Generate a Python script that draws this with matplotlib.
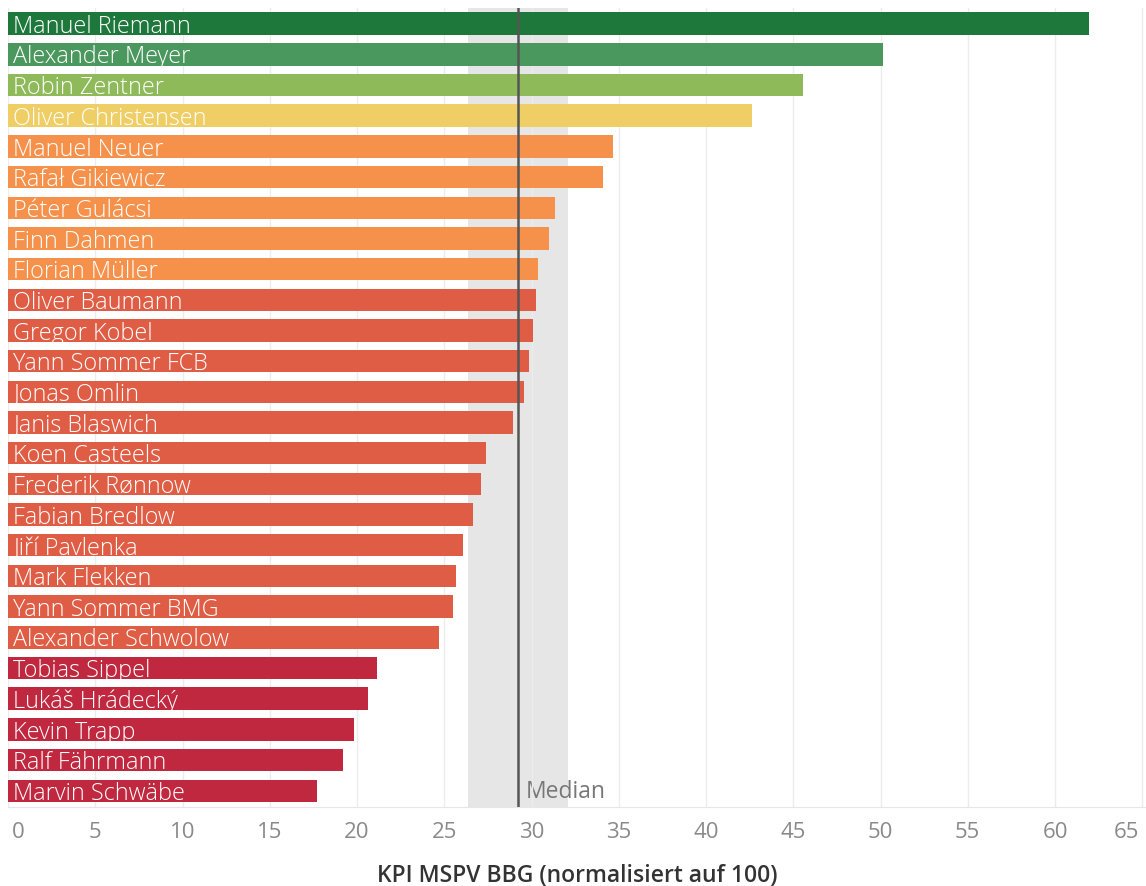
import numpy as np
import matplotlib.pyplot as plt
from matplotlib.transforms import ScaledTranslation

players = ["Manuel Riemann", "Alexander Meyer", "Robin Zentner", "Oliver Christensen",
           "Manuel Neuer", "Rafał Gikiewicz", "Péter Gulácsi", "Finn Dahmen",
           "Florian Müller", "Oliver Baumann", "Gregor Kobel", "Yann Sommer FCB",
           "Jonas Omlin", "Janis Blaswich", "Koen Casteels", "Frederik Rønnow",
           "Fabian Bredlow", "Jiří Pavlenka", "Mark Flekken", "Yann Sommer BMG",
           "Alexander Schwolow", "Tobias Sippel", "Lukáš Hrádecký", "Kevin Trapp",
           "Ralf Fährmann", "Marvin Schwäbe"]
kpi = [61.95, 50.15, 45.55, 42.65, 34.65, 34.1, 31.35, 31.0, 30.4, 30.25, 30.1,
       29.85, 29.55, 28.95, 27.4, 27.1, 26.65, 26.05, 25.65, 25.5, 24.7, 21.15,
       20.65, 19.85, 19.2, 17.7]
tiers = ["g1", "g2", "g3", "y", "o", "o", "o", "o", "o", "r", "r", "r", "r", "r",
         "r", "r", "r", "r", "r", "r", "r", "c", "c", "c", "c", "c"]
band = (26.35, 32.1)
ticks = list(range(0, 70, 5))

tier_colors = {"g1": "#1e783c", "g2": "#4b985f", "g3": "#8fba5a", "y": "#f0ce66",
               "o": "#f5914b", "r": "#e05d45", "c": "#bf283f"}

plt.rcParams["font.family"] = ["Open Sans", "DejaVu Sans"]

fig = plt.figure(figsize=(11.46, 8.87), dpi=100)
ax = fig.add_axes([8 / 1146, 79 / 887, 1138 / 1146, 799 / 887])

y = np.arange(len(players))
h = 0.73
ax.barh(y, kpi, height=h, color=[tier_colors[t] for t in tiers], zorder=2)

# player names sit inside the bars, baseline near the bar's lower edge
for yi, name in zip(y, players):
    ax.text(0.3, yi + h / 2 - 0.1, name, color="white", fontsize=16.8,
            fontweight="light", va="baseline", ha="left", zorder=3)

med = np.median(kpi)
ax.axvspan(band[0], band[1], color="#e6e6e6", zorder=0, lw=0)
ax.axvline(med, color="#555555", lw=1.8, zorder=4)
ax.text(med + 0.4, y[-1], "Median", color="#777777", fontsize=16.5, va="center",
        ha="left", zorder=1)

ax.set_xlim(0, 1138 / 17.45)
ax.set_ylim(len(players) - 0.47, -0.51)
ax.set_yticks([])
ax.set_xticks(ticks)
ax.set_xticklabels([str(t) for t in ticks], fontsize=16, color="#8a8a8a")
ax.tick_params(axis="x", length=0, pad=10)

# keep the end labels inside the figure
labels = ax.get_xticklabels()
labels[0].set_horizontalalignment("left")
labels[0].set_transform(labels[0].get_transform() + ScaledTranslation(4 / 100, 0, fig.dpi_scale_trans))
labels[-1].set_horizontalalignment("right")
labels[-1].set_transform(labels[-1].get_transform() + ScaledTranslation(-3 / 100, 0, fig.dpi_scale_trans))

ax.grid(axis="x", color="#ececec", lw=1, zorder=0)
for side in ["top", "right", "left"]:
    ax.spines[side].set_visible(False)
ax.spines["bottom"].set_color("#e6e6e6")
ax.set_xlabel("KPI MSPV BBG (normalisiert auf 100)", fontsize=16.5, fontweight="semibold",
              color="#333333")
ax.xaxis.set_label_coords((577 - 8) / 1138, -0.07)

fig.savefig("out.png", dpi=100)
